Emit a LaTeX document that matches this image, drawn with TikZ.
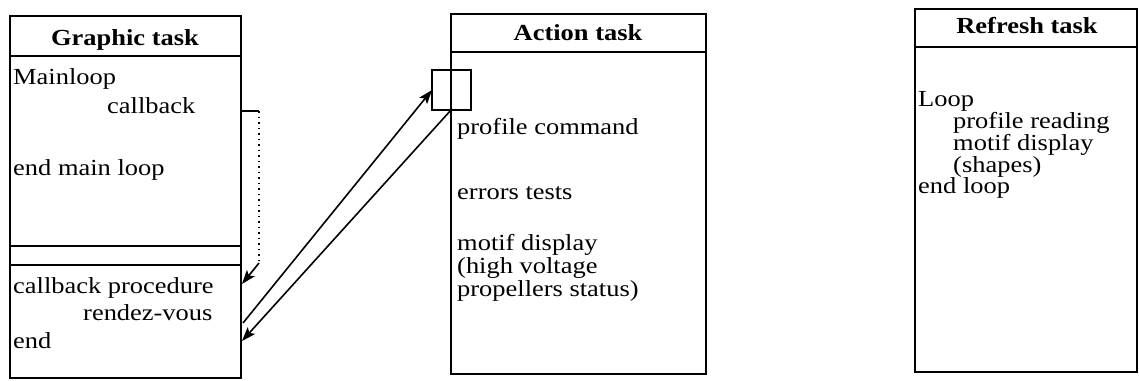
\documentclass[tikz,border=0pt]{standalone}
\usepackage{fontspec}
\setmainfont[FakeStretch=1.15]{Liberation Serif}
\usetikzlibrary{arrows.meta}
\begin{document}
\begin{tikzpicture}[x=1pt,y=-1pt,
  box/.style={draw, line width=1.6pt, anchor=north west, inner sep=0pt, outer sep=0pt},
  sep/.style={line width=1.6pt},
  txt/.style={anchor=base west, inner sep=0pt, font=\fontsize{23}{22}\selectfont},
  head/.style={anchor=base, inner sep=0pt, font=\fontsize{23}{22}\selectfont\bfseries},
  arr/.style={line width=1.6pt, -{Stealth[length=14pt,width=10pt,inset=3pt]}}]
\useasboundingbox (0,0) rectangle (1139,380);

% Graphic task
\node[box, minimum width=231pt, minimum height=362pt] (gt) at (10,16) {};
\draw[sep] (10,56) -- (241,56);
\draw[sep] (10,246) -- (241,246);
\draw[sep] (10,265) -- (241,265);
\node[head] (gth) at (125,45) {Graphic task};
\node[txt] (g1) at (13,84) {Mainloop};
\node[txt] (g2) at (107,113) {callback};
\node[txt] (g3) at (13,175) {end main loop};
\node[txt] (g4) at (13,293) {callback procedure};
\node[txt] (g5) at (83,320) {rendez-vous};
\node[txt] (g6) at (13,348) {end};

% Action task
\node[box, minimum width=255pt, minimum height=360pt] (at) at (451,14) {};
\draw[sep] (451,52) -- (706,52);
\node[head] (ath) at (578,40) {Action task};
\node[box, minimum width=39pt, minimum height=40pt] (port) at (432,70) {};
\node[txt] (a1) at (457,134) {profile command};
\node[txt] (a2) at (457,199) {errors tests};
\node[txt] (a3) at (457,250) {motif display};
\node[txt] (a4) at (457,273) {(high voltage};
\node[txt] (a5) at (457,296) {propellers status)};

% Refresh task
\node[box, minimum width=222pt, minimum height=363pt] (rt) at (915,9) {};
\draw[sep] (915,47) -- (1137,47);
\node[head] (rth) at (1027,33) {Refresh task};
\node[txt] (r1) at (918,106) {Loop};
\node[txt] (r2) at (953,128) {profile reading};
\node[txt] (r3) at (953,150) {motif display};
\node[txt] (r4) at (953,172) {(shapes)};
\node[txt] (r5) at (918,193) {end loop};

% connectors
\coordinate (cbs) at (241,111);
\coordinate (cbc) at (259,111);
\coordinate (cbd) at (259,263);
\coordinate (cbt) at (242,284);
\coordinate (rvs) at (243,323);
\coordinate (rvt) at (432,90);
\coordinate (rvb) at (451,110);
\coordinate (rve) at (242,341);
\draw[sep] (cbs) -- (cbc);
\draw[line width=1.6pt, dash pattern=on 1.5pt off 4pt] (cbc) -- (cbd);
\draw[arr] (cbd) -- (cbt);
\draw[arr] (rvs) -- (rvt);
\draw[arr] (rvb) -- (rve);
\end{tikzpicture}
\end{document}
